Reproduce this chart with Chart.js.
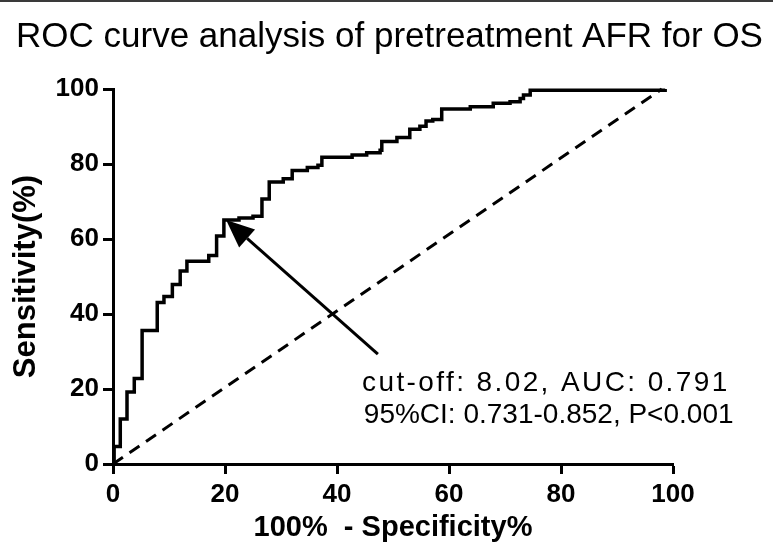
<!DOCTYPE html>
<html>
<head>
<meta charset="utf-8">
<script src="https://cdn.jsdelivr.net/npm/chart.js@4.4.0/dist/chart.umd.min.js"></script>
<style>
  html, body { margin: 0; padding: 0; background: #fff; }
  #wrap { width: 773px; height: 549px; position: relative; }
</style>
</head>
<body>
<div id="wrap"><canvas id="roc"></canvas></div>
<script>
// ROC curve step corners (100% - specificity, sensitivity)
const fpr  = [0, 0.2, 1.3, 2.5, 3.8, 5.2, 7.9, 9.1, 10.6, 12.0, 13.2, 17.1, 18.5, 19.8, 22.5, 25.0, 26.6, 27.9, 30.4, 32.0, 34.7, 36.6, 37.3, 42.7, 45.3, 47.7, 48.0, 50.7, 53.0, 54.8, 55.9, 57.1, 58.7, 63.8, 67.9, 70.9, 72.7, 73.3, 74.5, 94.6, 98.6];
const sens = [0, 4.7, 12.0, 19.2, 22.8, 35.6, 43.1, 44.7, 47.9, 51.5, 54.1, 55.6, 60.8, 65.1, 65.6, 66.1, 70.7, 75.2, 76.1, 78.3, 79.1, 79.7, 81.8, 82.4, 83.0, 83.7, 86.0, 87.1, 89.3, 90.1, 91.5, 91.9, 94.7, 95.3, 96.2, 96.6, 97.5, 98.4, 99.7, 99.7, 100];

// reference line
const refX = [0, 98];
const refY = [0, 100];

const xTicks = [0, 20, 40, 60, 80, 100];
const yTicks = [0, 20, 40, 60, 80, 100];

const titleText = 'ROC curve analysis of pretreatment AFR for OS';
const noteLines = ['cut-off: 8.02, AUC: 0.791', '95%CI: 0.731-0.852, P<0.001'];
const cutoffPoint = [20.2, 65.1];

const FONT = "'Liberation Sans', Arial, Helvetica, sans-serif";

const annotate = {
  id: 'annotate',
  beforeDraw(chart) {
    const ctx = chart.ctx;
    ctx.save();
    // thin frame line along the top
    ctx.strokeStyle = '#3a3a3a';
    ctx.lineWidth = 2;
    ctx.beginPath();
    ctx.moveTo(0, 1);
    ctx.lineTo(chart.width, 1);
    ctx.stroke();
    // title, wider than the plot area
    ctx.fillStyle = '#000';
    ctx.font = '35px ' + FONT;
    ctx.textAlign = 'center';
    ctx.textBaseline = 'middle';
    ctx.fillText(titleText, 389.5, 37, 751);
    ctx.restore();
  },
  afterDatasetsDraw(chart) {
    const {ctx, scales: {x, y}} = chart;
    ctx.save();
    // arrow pointing at the cut-off
    const x0 = x.getPixelForValue(47.3), y0 = y.getPixelForValue(29.3);
    const x1 = x.getPixelForValue(cutoffPoint[0]), y1 = y.getPixelForValue(cutoffPoint[1]);
    const ang = Math.atan2(y1 - y0, x1 - x0);
    const headLen = 28, headW = 12;
    const bx = x1 - headLen * Math.cos(ang), by = y1 - headLen * Math.sin(ang);
    ctx.strokeStyle = '#000';
    ctx.fillStyle = '#000';
    ctx.lineWidth = 3;
    ctx.beginPath();
    ctx.moveTo(x0, y0);
    ctx.lineTo(bx, by);
    ctx.stroke();
    ctx.beginPath();
    ctx.moveTo(x1, y1);
    ctx.lineTo(bx + headW * Math.sin(ang), by - headW * Math.cos(ang));
    ctx.lineTo(bx - headW * Math.sin(ang), by + headW * Math.cos(ang));
    ctx.closePath();
    ctx.fill();

    // note text
    ctx.font = '28px ' + FONT;
    ctx.textAlign = 'center';
    ctx.textBaseline = 'middle';
    const cx = x.getPixelForValue(77.8);
    ctx.letterSpacing = '2.4px';
    ctx.fillText(noteLines[0], x.getPixelForValue(77.3), y.getPixelForValue(21.6));
    ctx.letterSpacing = '0px';
    ctx.fillText(noteLines[1], cx, y.getPixelForValue(13.1));
    ctx.restore();
  }
};

new Chart(document.getElementById('roc'), {
  type: 'line',
  data: {
    datasets: [
      {
        data: fpr.map((v, i) => ({x: v, y: sens[i]})),
        borderColor: '#000',
        borderWidth: 3.5,
        stepped: true,
        pointRadius: 0,
        fill: false,
        clip: 6
      },
      {
        data: refX.map((v, i) => ({x: v, y: refY[i]})),
        borderColor: '#000',
        borderWidth: 3,
        borderDash: [12, 8],
        pointRadius: 0,
        fill: false,
        clip: 6
      }
    ]
  },
  options: {
    responsive: true,
    maintainAspectRatio: false,
    animation: false,
    layout: { padding: { left: 0, right: 100, top: 89, bottom: 0 } },
    plugins: {
      legend: { display: false },
      tooltip: { enabled: false },
      title: { display: false }
    },
    scales: {
      x: {
        type: 'linear',
        min: 0, max: 100,
        afterBuildTicks: s => { s.ticks = xTicks.map(v => ({value: v})); },
        afterFit: s => { s.height = 85; },
        grid: { drawOnChartArea: false, drawTicks: true, tickLength: 10, tickWidth: 3, color: '#000' },
        border: { display: true, width: 3, color: '#000' },
        ticks: { color: '#000', padding: 5, maxRotation: 0, font: { family: FONT, size: 26, weight: 'bold' } },
        title: {
          display: true,
          text: '100%  - Specificity%',
          color: '#000',
          font: { family: FONT, size: 29, weight: 'bold' },
          padding: { top: 0, bottom: 4 }
        }
      },
      y: {
        type: 'linear',
        min: 0, max: 100,
        afterBuildTicks: s => { s.ticks = yTicks.map(v => ({value: v})); },
        afterFit: s => { s.width = 113; },
        grid: { drawOnChartArea: false, drawTicks: true, tickLength: 10, tickWidth: 3, color: '#000' },
        border: { display: true, width: 3, color: '#000' },
        ticks: { color: '#000', padding: 4, font: { family: FONT, size: 26, weight: 'bold' } },
        title: {
          display: true,
          text: 'Sensitivity(%)',
          color: '#000',
          font: { family: FONT, size: 31, weight: 'bold' },
          padding: { top: 8, bottom: 0 }
        }
      }
    }
  },
  plugins: [annotate]
});
</script>
</body>
</html>
